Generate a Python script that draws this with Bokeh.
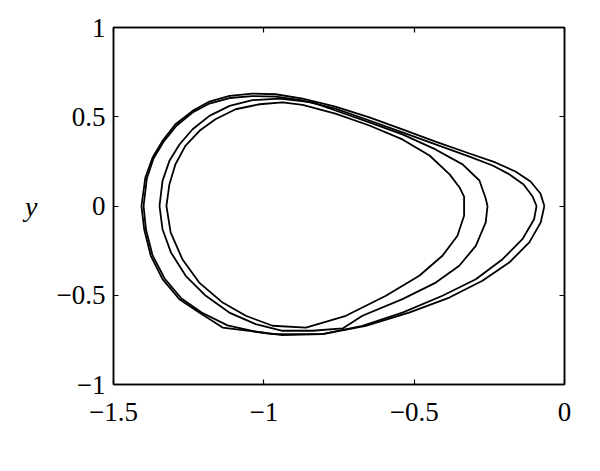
from bokeh.plotting import figure
from bokeh.models import LinearAxis, Range1d, FixedTicker
from bokeh.embed import file_html
from bokeh.resources import INLINE

# Four closed orbits (x, y)
xa = [-0.334, -0.334, -0.349, -0.382, -0.449, -0.539, -0.649, -0.762, -0.871, -0.938, -1.014, -1.094,
      -1.161, -1.214, -1.261, -1.294, -1.314, -1.324, -1.310, -1.271, -1.215, -1.137, -1.060, -0.971,
      -0.860, -0.727, -0.594, -0.483, -0.406, -0.356, -0.334, -0.334]
ya = [0.000, 0.053, 0.104, 0.177, 0.283, 0.373, 0.451, 0.518, 0.566, 0.580, 0.570, 0.542,
      0.486, 0.421, 0.337, 0.234, 0.122, 0.000, -0.148, -0.298, -0.429, -0.541, -0.615, -0.671,
      -0.681, -0.615, -0.503, -0.391, -0.279, -0.167, -0.055, 0.000]

xb = [-0.256, -0.263, -0.283, -0.339, -0.429, -0.539, -0.649, -0.762, -0.838, -0.948, -1.038, -1.114,
      -1.181, -1.237, -1.280, -1.314, -1.337, -1.347, -1.337, -1.309, -1.260, -1.193, -1.115, -1.027,
      -0.938, -0.838, -0.738, -0.672, -0.539, -0.428, -0.350, -0.295, -0.262, -0.256]
yb = [0.000, 0.048, 0.143, 0.233, 0.317, 0.401, 0.468, 0.535, 0.580, 0.602, 0.593, 0.561,
      0.505, 0.430, 0.346, 0.253, 0.141, 0.000, -0.130, -0.260, -0.391, -0.503, -0.597, -0.662,
      -0.699, -0.699, -0.686, -0.615, -0.522, -0.429, -0.335, -0.223, -0.092, 0.000]

xc = [-0.093, -0.106, -0.136, -0.183, -0.239, -0.316, -0.429, -0.539, -0.649, -0.762, -0.871, -0.961,
      -1.038, -1.114, -1.181, -1.237, -1.290, -1.334, -1.367, -1.389, -1.400, -1.392, -1.370, -1.330,
      -1.274, -1.207, -1.121, -1.031, -0.938, -0.805, -0.672, -0.539, -0.406, -0.295, -0.206, -0.140,
      -0.101, -0.093]
yc = [0.000, 0.053, 0.120, 0.177, 0.227, 0.277, 0.345, 0.412, 0.479, 0.546, 0.591, 0.613,
      0.616, 0.605, 0.574, 0.524, 0.451, 0.359, 0.266, 0.154, 0.000, -0.132, -0.277, -0.406,
      -0.518, -0.597, -0.669, -0.703, -0.723, -0.718, -0.671, -0.597, -0.503, -0.410, -0.298, -0.186,
      -0.074, 0.000]

xd = [-0.067, -0.080, -0.113, -0.163, -0.230, -0.316, -0.429, -0.539, -0.649, -0.762, -0.871, -0.961,
      -1.038, -1.114, -1.181, -1.237, -1.294, -1.337, -1.370, -1.394, -1.407, -1.398, -1.376, -1.337,
      -1.281, -1.215, -1.137, -1.049, -0.971, -0.882, -0.805, -0.661, -0.517, -0.383, -0.273, -0.184,
      -0.117, -0.079, -0.067]
yd = [0.000, 0.070, 0.137, 0.193, 0.244, 0.294, 0.361, 0.429, 0.496, 0.557, 0.602, 0.626,
      0.630, 0.617, 0.585, 0.533, 0.458, 0.365, 0.272, 0.160, 0.000, -0.130, -0.279, -0.410,
      -0.522, -0.597, -0.681, -0.699, -0.718, -0.718, -0.718, -0.671, -0.597, -0.513, -0.419, -0.317,
      -0.204, -0.092, 0.000]

x_ticks = [-1.5, -1, -0.5, 0]
x_tick_labels = ["\u22121.5", "\u22121", "\u22120.5", "0"]
y_ticks = [-1, -0.5, 0, 0.5, 1]
y_tick_labels = ["\u22121", "\u22120.5", "0", "0.5", "1"]

FONT = "Liberation Serif"
FS = "27px"

p = figure(width=584, height=455, output_backend="svg", toolbar_location=None,
           x_range=Range1d(-1.5, 0), y_range=Range1d(-1, 1),
           min_border_left=113, min_border_right=20, min_border_top=27, min_border_bottom=71)
p.grid.visible = False
p.background_fill_color = "white"
p.border_fill_color = "white"
p.outline_line_color = "black"
p.outline_line_width = 1.5

for xs, ys in [(xa, ya), (xb, yb), (xc, yc), (xd, yd)]:
    p.line(xs, ys, line_color="black", line_width=1.8)

def style(ax, ticks, labels, show_labels=True):
    ax.ticker = FixedTicker(ticks=ticks)
    ax.major_label_overrides = {t: l for t, l in zip(ticks, labels)}
    ax.minor_tick_line_color = None
    ax.major_tick_in = 5
    ax.major_tick_out = 0
    ax.axis_line_color = "black"
    ax.axis_line_width = 1.5
    ax.major_tick_line_width = 1.2
    ax.major_label_text_font = FONT
    ax.major_label_text_font_size = FS if show_labels else "0px"
    ax.major_label_text_color = "black"

style(p.xaxis[0], x_ticks, x_tick_labels)
p.xaxis[0].major_label_standoff = 18
style(p.yaxis[0], y_ticks, y_tick_labels)
p.yaxis[0].major_label_standoff = 8
p.yaxis[0].axis_label = "y"
p.yaxis[0].axis_label_orientation = "horizontal"
p.yaxis[0].axis_label_text_font = FONT
p.yaxis[0].axis_label_text_font_style = "italic"
p.yaxis[0].axis_label_text_font_size = "28px"
p.yaxis[0].axis_label_text_color = "black"
p.yaxis[0].axis_label_standoff = 16

top = LinearAxis()
style(top, x_ticks, ["", "", "", ""], show_labels=False)
p.add_layout(top, "above")
right = LinearAxis()
style(right, y_ticks, ["", "", "", "", ""], show_labels=False)
p.add_layout(right, "right")

open("out.html", "w").write(file_html(p, INLINE))
